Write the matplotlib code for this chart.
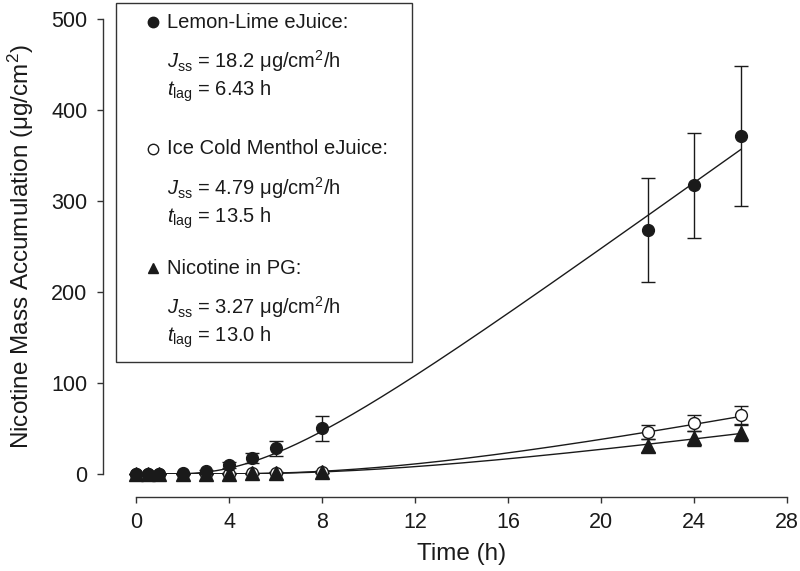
import numpy as np
import matplotlib
matplotlib.use("Agg")
import matplotlib.pyplot as plt
from matplotlib.patches import Rectangle
from matplotlib.lines import Line2D

plt.rcParams["font.family"] = ["Liberation Sans", "DejaVu Sans"]
plt.rcParams["mathtext.fontset"] = "custom"
plt.rcParams["mathtext.rm"] = "Liberation Sans"
plt.rcParams["mathtext.it"] = "Liberation Sans:italic"

# sampling times (h)
time_h = [0, 0.5, 1, 2, 3, 4, 5, 6, 8, 22, 24, 26]

# mean nicotine mass accumulation (ug/cm2) and SD
lemon = [0, 0, 0, 0.5, 3, 10, 18, 28, 50, 268, 317, 371]
lemon_sd = [0.3, 0.3, 0.3, 0.5, 1.5, 3, 5.5, 8.5, 13.5, 57, 58, 77]
menthol = [0, 0, 0, 0, 0.2, 0.4, 0.8, 1.2, 2.5, 46, 56, 65]
menthol_sd = [0.2, 0.2, 0.2, 0.2, 0.2, 0.3, 0.4, 0.5, 1, 8, 8.5, 10]
pg = [0, 0, 0, 0, 0.2, 0.4, 0.8, 1.2, 2.5, 31, 39, 45]
pg_sd = [0.2, 0.2, 0.2, 0.2, 0.2, 0.3, 0.4, 0.5, 1, 7, 8, 9]

# fitted parameters from the legend
names = ["Lemon-Lime eJuice:", "Ice Cold Menthol eJuice:", "Nicotine in PG:"]
jss = [18.2, 4.79, 3.27]
tlag = [6.43, 13.5, 13.0]
jss_txt = ["18.2", "4.79", "3.27"]
tlag_txt = ["6.43", "13.5", "13.0"]


def lag_model(t, j, tl):
    # Fick's second law permeation curve (Crank), written with Jss and tlag
    n = np.arange(1, 60)[:, None]
    s = ((-1.0) ** n / n ** 2 * np.exp(-n ** 2 * np.pi ** 2 * t / (6 * tl))).sum(axis=0)
    return j * (t - tl) - 12 * j * tl / np.pi ** 2 * s


ink = "#1a1a1a"
fig = plt.figure(figsize=(8, 5.71), dpi=100)
ax = fig.add_axes([0.170, 0.170, 0.814, 0.797])

tt = np.linspace(0, 26, 400)
for j, tl in zip(jss, tlag):
    ax.plot(tt, lag_model(tt, j, tl), color=ink, lw=1.0, zorder=2)

common = dict(ls="none", ecolor=ink, elinewidth=1.0, capsize=5,
              capthick=1.0, clip_on=False, zorder=3)
ax.errorbar(time_h, menthol, yerr=menthol_sd, fmt="o", ms=8.5, mfc="white", mec=ink, **common)
ax.errorbar(time_h, pg, yerr=pg_sd, fmt="^", ms=9.5, mfc=ink, mec=ink, **common)
ax.errorbar(time_h, lemon, yerr=lemon_sd, fmt="o", ms=8.5, mfc=ink, mec=ink, **common)

ax.set_xlim(0, 28)
ax.set_ylim(0, 500)
ax.set_xticks(range(0, 29, 4))
ax.set_yticks(range(0, 501, 100))
for s in ["top", "right"]:
    ax.spines[s].set_visible(False)
ax.spines["left"].set_position(("outward", 24))
ax.spines["bottom"].set_position(("outward", 16.5))
for s in ["left", "bottom"]:
    ax.spines[s].set_color("#333333")
    ax.spines[s].set_linewidth(1.0)
ax.tick_params(direction="out", length=4, width=1.0, color="#333333",
               labelsize=15.5, labelcolor=ink, pad=7)
ax.set_xlabel("Time (h)", fontsize=17.5, color=ink, labelpad=7)
ax.set_ylabel("Nicotine Mass Accumulation (μg/cm$^2$)", fontsize=17.5, color=ink, labelpad=11)

# legend box with fitted parameters
fig.patches.append(Rectangle((116 / 800, 1 - 362 / 571), 296 / 800, 359 / 571,
                             transform=fig.transFigure, fill=False, ec="#333333", lw=1.0))
markers = [("o", ink), ("o", "white"), ("^", ink)]
rows = [22, 149, 268]
for (m, fc), y0, nm, js, tls in zip(markers, rows, names, jss_txt, tlag_txt):
    fig.lines.append(Line2D([153 / 800], [1 - y0 / 571], marker=m, ms=7.5, mfc=fc, mec=ink,
                            transform=fig.transFigure))
    fig.text(167 / 800, 1 - y0 / 571, nm, fontsize=14.5, color=ink, va="center")
    fig.text(167 / 800, 1 - (y0 + 39) / 571, r"$J_{\rm ss}$ = " + js + " μg/cm$^2$/h",
             fontsize=14.5, color=ink, va="center")
    fig.text(167 / 800, 1 - (y0 + 69) / 571, r"$t_{\rm lag}$ = " + tls + " h",
             fontsize=14.5, color=ink, va="center")

fig.savefig("out.png", dpi=100)
